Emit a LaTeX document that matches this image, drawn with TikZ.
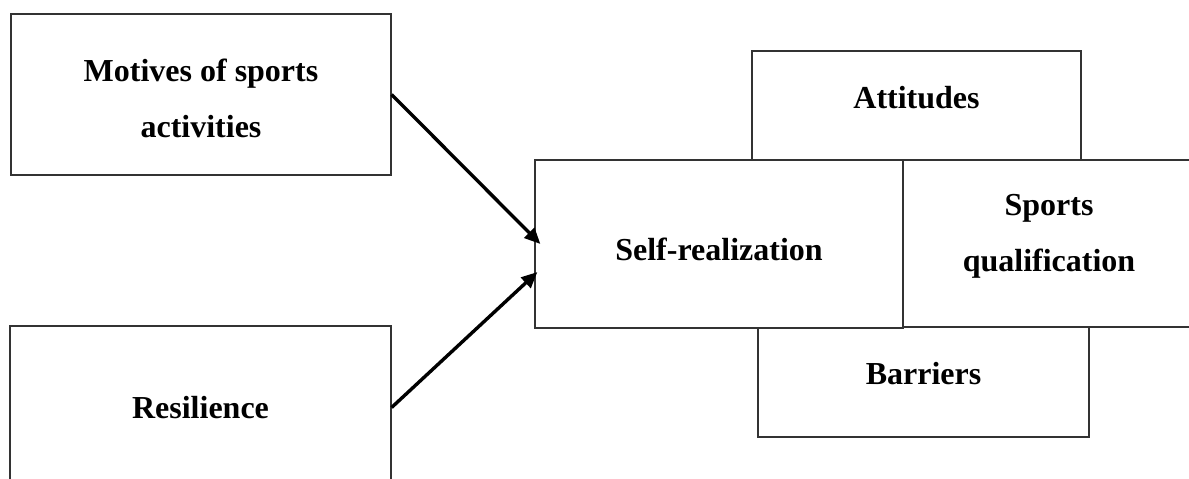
\documentclass[tikz,border=0pt]{standalone}
\usepackage{fontspec}
\setmainfont{Liberation Serif}
\usetikzlibrary{arrows.meta}

\tikzset{
	box/.style={draw=black!80, line width=0.6pt, fill=white, inner sep=0pt},
	lbl/.style={font=\bfseries\fontsize{16}{28}\selectfont, align=center, inner sep=0pt},
	arr/.style={line width=1.7pt, -{Triangle[length=8pt,width=7pt]}}
}

\begin{document}
\begin{tikzpicture}[x=0.5pt, y=-0.5pt]
	\clip (0,0) rectangle (1189,478);
	\fill[white] (0,0) rectangle (1189,478);

	\node[box, minimum width=190pt, minimum height=80.5pt] (mot) at (201,94.5) {};
	\node[lbl] (motl) at ([yshift=-2pt]mot.center) {Motives of sports\\activities};

	\node[box, minimum width=190.5pt, minimum height=81.5pt] (res) at (200.5,407.5) {};
	\node[lbl] (resl) at (res.center) {Resilience};

	\node[box, minimum width=164.5pt, minimum height=54.5pt] (att) at (916.5,105.5) {};
	\node[lbl] (attl) at ([yshift=4pt]att.center) {Attitudes};

	\node[box, minimum width=165.5pt, minimum height=55pt] (bar) at (923.5,382) {};
	\node[lbl] (barl) at ([yshift=4.25pt]bar.center) {Barriers};

	\node[box, minimum width=184pt, minimum height=84pt] (self) at (719,244) {};
	\node[lbl] (selfl) at ([yshift=-2.5pt]self.center) {Self-realization};

	\node[box, minimum width=146pt, minimum height=83.5pt] (qual) at (1049,243.5) {};
	\node[lbl] (quall) at ([yshift=3.5pt]qual.center) {Sports\\qualification};

	\draw[arr] (mot.east) -- ([xshift=3pt]self.west);
	\draw[arr] (res.east) -- ([xshift=1.5pt,yshift=-14pt]self.west);
\end{tikzpicture}
\end{document}
